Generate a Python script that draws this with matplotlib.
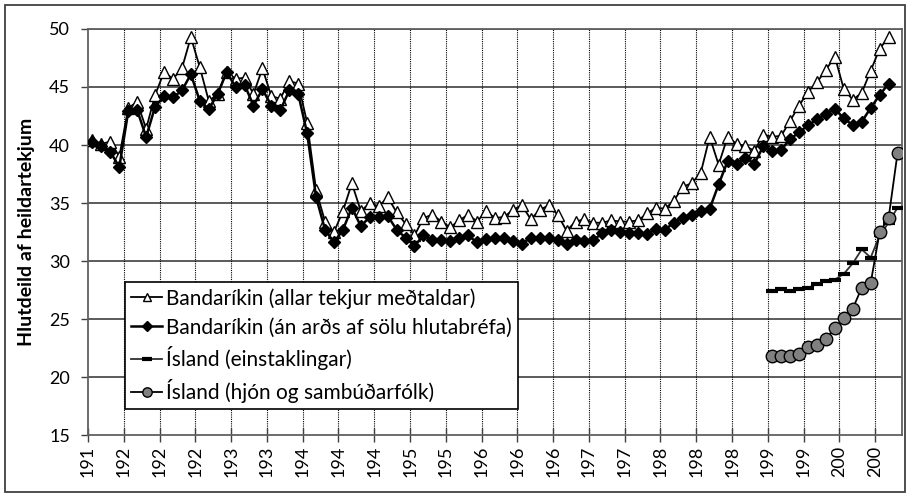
import matplotlib
matplotlib.use("Agg")
import matplotlib.pyplot as plt
from matplotlib.patches import Rectangle
import numpy as np

plt.rcParams['font.family'] = ['Lato', 'DejaVu Sans']

us_years = list(range(1917, 2007))
us_all = [40.4, 40.1, 40.3, 39.0, 43.2, 43.7, 41.4, 44.3, 46.3, 45.7,
          46.6, 49.3, 46.7, 43.8, 44.4, 46.3, 45.7, 45.8, 44.4, 46.6,
          44.2, 44.0, 45.5, 45.3, 41.9, 36.1, 33.4, 32.5, 34.3, 36.7,
          34.3, 35.0, 34.7, 35.5, 34.2, 33.2, 32.2, 33.7, 34.0, 33.4,
          32.9, 33.5, 34.0, 33.4, 34.3, 33.7, 33.8, 34.4, 34.8, 33.6,
          34.4, 34.8, 34.0, 32.6, 33.4, 33.6, 33.3, 33.3, 33.5, 33.4,
          33.4, 33.5, 34.1, 34.6, 34.5, 35.2, 36.4, 36.7, 37.6, 40.7,
          38.3, 40.7, 40.1, 39.9, 39.5, 40.9, 40.7, 40.8, 42.1, 43.4,
          44.6, 45.4, 46.5, 47.6, 44.8, 43.9, 44.5, 46.4, 48.3, 49.3]
us_excl = [40.3, 39.9, 39.4, 38.1, 42.9, 43.0, 40.7, 43.3, 44.2, 44.1,
           44.7, 46.1, 43.8, 43.1, 44.4, 46.3, 45.0, 45.2, 43.4, 44.8,
           43.4, 43.0, 44.7, 44.4, 41.0, 35.5, 32.7, 31.6, 32.7, 34.6,
           33.0, 33.8, 33.8, 33.9, 32.7, 32.0, 31.3, 32.2, 31.8, 31.8,
           31.7, 32.0, 32.2, 31.6, 31.9, 32.0, 32.0, 31.7, 31.5, 32.0,
           32.0, 32.0, 31.8, 31.5, 31.8, 31.7, 31.8, 32.4, 32.7, 32.5,
           32.4, 32.4, 32.3, 32.8, 32.7, 33.3, 33.7, 34.0, 34.3, 34.5,
           36.6, 38.6, 38.4, 38.9, 38.4, 39.9, 39.5, 39.6, 40.5, 41.1,
           41.7, 42.2, 42.7, 43.1, 42.3, 41.7, 42.0, 43.2, 44.3, 45.3]

is_years = list(range(1993, 2008))
is_indiv = [27.4, 27.6, 27.4, 27.6, 27.7, 28.0, 28.3, 28.4, 28.9, 29.8,
            31.0, 30.3, 32.2, 33.3, 34.6]
is_couples = [21.8, 21.8, 21.8, 22.0, 22.6, 22.8, 23.3, 24.2, 25.1, 25.9,
              27.7, 28.1, 32.5, 33.7, 39.3]

tick_years = list(range(1917, 2006, 4))
tick_labels = ["191", "192", "192", "192", "193", "193", "194", "194", "194",
               "195", "195", "196", "196", "196", "197", "197", "198", "198",
               "198", "199", "199", "200", "200"]

labels = ["Bandaríkin (allar tekjur meðtaldar)",
          "Bandaríkin (án arðs af sölu hlutabréfa)",
          "Ísland (einstaklingar)",
          "Ísland (hjón og sambúðarfólk)"]

fig = plt.figure(figsize=(9.10, 4.97), dpi=100)
ax = fig.add_axes([88/910, 62/497, 814/910, 406/497])

fig.patches.append(Rectangle((5/910, 5/497), 900/910, 487/497, transform=fig.transFigure,
                             fill=False, edgecolor='#404040', linewidth=1.3))

ux = np.array(us_years) + 0.5
ix = np.array(is_years) + 0.5

ax.plot(ux, us_all, color='black', lw=1.3, marker='^', markersize=8.5,
        markerfacecolor='white', markeredgecolor='black', markeredgewidth=1.0,
        label=labels[0], zorder=4)
ax.plot(ux, us_excl, color='black', lw=1.8, marker='D', markersize=6.3,
        markerfacecolor='black', markeredgecolor='black',
        label=labels[1], zorder=5)
ax.plot(ix, is_indiv, color='#303030', lw=1.3, marker='_', markersize=9,
        markeredgewidth=3, markeredgecolor='black',
        label=labels[2], zorder=4)
ax.plot(ix, is_couples, color='black', lw=1.3, marker='o', markersize=9,
        markerfacecolor='#808080', markeredgecolor='black', markeredgewidth=1.0,
        label=labels[3], zorder=5)

ax.set_xlim(1917, 2008)
ax.set_ylim(15, 50)
ax.set_yticks(range(15, 51, 5))
ax.set_xticks(tick_years)
ax.set_xticklabels(tick_labels, rotation='vertical', fontsize=13)
ax.tick_params(axis='x', direction='inout', length=10, width=1, color='#404040', pad=3)
ax.tick_params(axis='y', direction='out', length=5, width=1, color='#404040',
               labelsize=13, pad=8)
plt.setp(ax.get_xticklabels(), rotation='vertical')

for y in range(20, 51, 5):
    ax.axhline(y, color='#404040', lw=1.2, zorder=1)
for x in tick_years[1:]:
    ax.axvline(x, color='black', lw=0.8, linestyle=(0, (1, 1)), zorder=1)

for side in ['left', 'bottom', 'right', 'top']:
    ax.spines[side].set_color('#606060')
    ax.spines[side].set_linewidth(1.3)

ax.set_ylabel("Hlutdeild af heildartekjum", fontsize=14, fontweight='bold', labelpad=10)

leg = ax.legend(loc='upper left', bbox_to_anchor=(0.045, 0.377), borderaxespad=0,
                fontsize=15, frameon=True, fancybox=False, handlelength=1.5,
                handletextpad=0.2, labelspacing=0.42, borderpad=0.3, markerscale=0.75)
leg.get_frame().set_edgecolor('black')
leg.get_frame().set_linewidth(1.2)
leg.get_frame().set_alpha(1)
leg.set_zorder(10)

fig.savefig("out.png", dpi=100)
